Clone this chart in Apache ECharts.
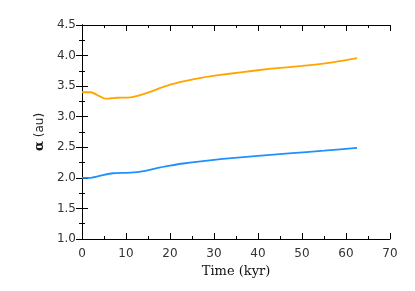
<!DOCTYPE html>
<html><head><meta charset="utf-8">
<script src="https://cdn.jsdelivr.net/npm/echarts@6/dist/echarts.min.js"></script>
<style>html,body{margin:0;padding:0;background:#fff}#c{width:415px;height:291px}</style>
</head><body><div id="c"></div>
<script>
var outerTime = [0, 2, 5.3, 8, 11, 13, 16, 18, 22, 27, 31, 36, 43, 50, 56, 62.5];
var outerA = [3.40, 3.40, 3.296, 3.31, 3.317, 3.35, 3.42, 3.475, 3.56, 3.635, 3.68, 3.725, 3.786, 3.83, 3.88, 3.96];
var innerTime = [0, 2, 5, 7, 11, 14, 17, 20, 23, 27, 32, 40, 47, 55, 62.5];
var innerA = [2.0, 2.0, 2.05, 2.075, 2.085, 2.11, 2.16, 2.2, 2.235, 2.27, 2.31, 2.36, 2.40, 2.445, 2.49];
var xTitle = 'Time (kyr)';
var yUnit = ' (au)';

function pairs(xs, ys){ return xs.map(function(x,i){return [x, ys[i]];}); }
var lab = {fontFamily:'DejaVu Sans', fontSize:12, color:'#333'};
var axLine = {show:true, lineStyle:{color:'#000', width:1}};
var tick = {show:true, inside:true, length:6, lineStyle:{color:'#000'}};
var minor = {show:true, splitNumber:2, length:3, lineStyle:{color:'#000'}};
var chart = echarts.init(document.getElementById('c'), null, {renderer:'canvas'});
chart.setOption({
  animation:false,
  backgroundColor:'#fff',
  grid:{left:82, right:25, top:25, bottom:52},
  xAxis:[{
    type:'value', min:0, max:70, interval:10, position:'bottom',
    axisLine:axLine, axisTick:tick, minorTick:minor, splitLine:{show:false},
    axisLabel:Object.assign({margin:9}, lab),
    name:xTitle, nameLocation:'middle', nameGap:26,
    nameTextStyle:{fontFamily:'DejaVu Serif', fontSize:13, color:'#111'}
  },{
    type:'value', min:0, max:70, interval:10, position:'top',
    axisLine:axLine, axisTick:tick, minorTick:minor, splitLine:{show:false}, axisLabel:{show:false}
  }],
  yAxis:[{
    type:'value', min:1, max:4.5, interval:0.5, position:'left',
    axisLine:axLine, axisTick:tick, minorTick:minor, splitLine:{show:false},
    axisLabel:Object.assign({margin:6, formatter:function(v){return v.toFixed(1);}}, lab),
    name:'{a|α}' + yUnit, nameLocation:'middle', nameGap:34,
    nameTextStyle:{fontFamily:'DejaVu Sans', fontSize:12, color:'#222',
      rich:{a:{fontFamily:'DejaVu Serif', fontWeight:'bold', fontSize:13, color:'#111'}}}
  },{
    type:'value', min:1, max:4.5, interval:0.5, position:'right',
    axisLine:axLine, axisTick:tick, minorTick:minor, splitLine:{show:false}, axisLabel:{show:false}
  }],
  series:[{
    type:'line', data:pairs(outerTime, outerA), showSymbol:false, smooth:0.15,
    lineStyle:{color:'#FFA500', width:1.8}, xAxisIndex:0, yAxisIndex:0
  },{
    type:'line', data:pairs(innerTime, innerA), showSymbol:false, smooth:0.15,
    lineStyle:{color:'#1E90FF', width:1.8}, xAxisIndex:0, yAxisIndex:0
  }]
});
</script></body></html>
